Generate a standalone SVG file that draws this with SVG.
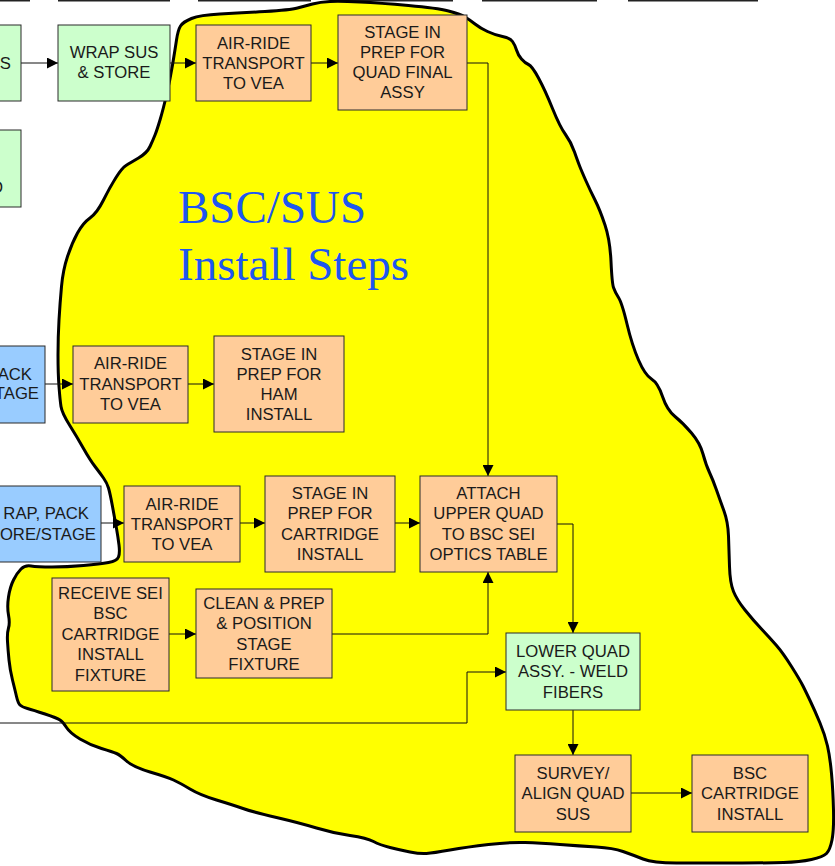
<svg xmlns="http://www.w3.org/2000/svg" width="835" height="866" viewBox="0 0 835 866">
<style>
.box{stroke:#2a2a2a;stroke-width:1}
.or{fill:#FFCC99}
.gr{fill:#CCFFCC}
.bl{fill:#99CCFF}
.t{font-family:"Liberation Sans",Arial,sans-serif;font-size:16.7px;fill:#1a1a1a;text-anchor:middle}
.e{text-anchor:end}
.c{fill:none;stroke:#111;stroke-width:1}
.title{font-family:"Liberation Serif","Times New Roman",serif;font-size:47px;fill:#1E56F0}
</style>
<defs>
<marker id="ah" markerUnits="userSpaceOnUse" markerWidth="11" markerHeight="11" refX="11" refY="5.5" orient="auto">
<path d="M0,0 L11,5.5 L0,11 z" fill="#000"/>
</marker>
</defs>
<rect width="835" height="866" fill="#fff"/>
<g id="top-edges" stroke="#222" stroke-width="2">
<line x1="0" y1="0.5" x2="30" y2="0.5"/>
<line x1="58" y1="0.5" x2="170" y2="0.5"/>
<line x1="198" y1="0.5" x2="311" y2="0.5"/>
<line x1="338" y1="0.5" x2="453" y2="0.5"/>
<line x1="482" y1="0.5" x2="597" y2="0.5"/>
<line x1="628" y1="0.5" x2="758" y2="0.5"/>
</g>
<g id="blob">
<path fill="#FFFF00" stroke="#000" stroke-width="3" stroke-linejoin="round" d="M155,135 Q157,130 160,120 Q163,110 166.5,95 Q170,80 172.5,65 Q175,50 176.5,40 Q178,30 180.5,26 Q183,22 191.5,18.5 Q200,15 220,14 Q240,13 265,11.5 Q290,10 297.5,8 Q305,6 312.5,4 Q320,2 330,1.5 Q340,1 360,2 Q380,3 408.5,5.5 Q437,8 448.5,11 Q460,14 465,17 Q470,20 475,24 Q480,28 487.5,31.5 Q495,35 502.5,36.5 Q510,38 512.5,41.5 Q515,45 516.5,50 Q518,55 521.5,59 Q525,63 528.5,64.5 Q532,66 538.5,78 Q545,90 552.5,108.5 Q560,127 565.5,134.5 Q571,142 574.5,152 Q578,162 580,167 Q582,172 586,181 Q590,190 595,200 Q600,210 605,225 Q610,240 611,261.5 Q612,283 613.5,287.5 Q615,292 618.5,297.5 Q622,303 627,324 Q632,345 638.5,360 Q645,375 651.5,379 Q658,383 662.5,396.5 Q667,410 675,416.5 Q683,423 691.5,433 Q700,443 703,454 Q706,465 709.5,472.5 Q713,480 716.5,490 Q720,500 724,511 Q728,522 728.5,536 Q729,550 729.5,566.5 Q730,583 733.5,591.5 Q737,600 745,610 Q753,620 761.5,629 Q770,638 776.5,645.5 Q783,653 791.5,666.5 Q800,680 803,686 Q806,692 810.5,701.5 Q815,711 820,723 Q825,735 827.5,746 Q830,757 831.5,773.5 Q833,790 833.5,810 Q834,830 832,840 Q830,850 826.5,853.5 Q823,857 811.5,859.5 Q800,862 783.5,862.5 Q767,863 733.5,863 Q700,863 676.5,863 Q653,863 643,859 Q633,855 623,851.5 Q613,848 596.5,847 Q580,846 560,844.5 Q540,843 525,842.5 Q510,842 488.5,844.5 Q467,847 450,850 Q433,853 426.5,853.5 Q420,854 410,852 Q400,850 390,847.5 Q380,845 373.5,841.5 Q367,838 350,835.5 Q333,833 316.5,828 Q300,823 276.5,817.5 Q253,812 243,808.5 Q233,805 216.5,800 Q200,795 190,789 Q180,783 173.5,780 Q167,777 150,772 Q133,767 126.5,761 Q120,755 116.5,753.5 Q113,752 101.5,748.5 Q90,745 80,739 Q70,733 66.5,727.5 Q63,722 60,720 Q57,718 45,714 Q33,710 27.5,708.5 Q22,707 20,705 Q18,703 16.5,696.5 Q15,690 12.5,680 Q10,670 9,660 Q8,650 7.5,641.5 Q7,633 8.5,628 Q10,623 8.5,615 Q7,607 8.5,597 Q10,587 13.5,580 Q17,573 21,569 Q25,565 31,566 Q37,567 52,567 Q67,567 83.5,565.5 Q100,564 108.5,562.5 Q117,561 118.5,557 Q120,553 119,545 Q118,537 116.5,528.5 Q115,520 112.5,506.5 Q110,493 108.5,488 Q107,483 103.5,478 Q100,473 95,466.5 Q90,460 83.5,448.5 Q77,437 69.5,425 Q62,413 61,406.5 Q60,400 59,386.5 Q58,373 58,355 Q58,337 59,320 Q60,303 61.5,286.5 Q63,270 67.5,256.5 Q72,243 77.5,233 Q83,223 90,218 Q97,213 103.5,200 Q110,187 116,177.5 Q122,168 126,165.5 Q130,163 138.5,158 Q147,153 150,146.5 Q153,140 155,135 Z"/>
</g>
<g id="title">
<text class="title" x="178" y="223">BSC/SUS</text>
<text class="title" x="178" y="280">Install Steps</text>
</g>
<g id="connectors">
<path class="c" d="M21,63 H58" marker-end="url(#ah)"/>
<path class="c" d="M170,63 H196" marker-end="url(#ah)"/>
<path class="c" d="M311,63 H338" marker-end="url(#ah)"/>
<path class="c" d="M467,63 H488 V476" marker-end="url(#ah)"/>
<path class="c" d="M45,384 H73" marker-end="url(#ah)"/>
<path class="c" d="M188,384 H214" marker-end="url(#ah)"/>
<path class="c" d="M101,523 H124" marker-end="url(#ah)"/>
<path class="c" d="M240,523 H265" marker-end="url(#ah)"/>
<path class="c" d="M395,523 H420" marker-end="url(#ah)"/>
<path class="c" d="M557,524 H573 V633" marker-end="url(#ah)"/>
<path class="c" d="M169,634 H196" marker-end="url(#ah)"/>
<path class="c" d="M332,634 H488 V572" marker-end="url(#ah)"/>
<path class="c" d="M0,723 H467 V672 H506" marker-end="url(#ah)"/>
<path class="c" d="M573,710 V755" marker-end="url(#ah)"/>
<path class="c" d="M631,793 H692" marker-end="url(#ah)"/>
</g>
<g id="n-partial-top">
<rect class="box gr" x="-20" y="25" width="41" height="76"/>
<text class="t e" x="11" y="69">S</text>
</g>
<g id="n-partial-mid">
<rect class="box gr" x="-20" y="130" width="41" height="77"/>
<text class="t e" x="3" y="193">D</text>
</g>
<g id="n-wrap-sus">
<rect class="box gr" x="58" y="25" width="112" height="76"/>
<text class="t" x="114" y="58">WRAP SUS</text>
<text class="t" x="114" y="78">&amp; STORE</text>
</g>
<g id="n-airride-1">
<rect class="box or" x="196" y="25" width="115" height="76"/>
<text class="t" x="253.5" y="48.5">AIR-RIDE</text>
<text class="t" x="253.5" y="69">TRANSPORT</text>
<text class="t" x="253.5" y="89">TO VEA</text>
</g>
<g id="n-stage-quad">
<rect class="box or" x="338" y="15" width="129" height="95"/>
<text class="t" x="402.5" y="37.5">STAGE IN</text>
<text class="t" x="402.5" y="58">PREP FOR</text>
<text class="t" x="402.5" y="78">QUAD FINAL</text>
<text class="t" x="402.5" y="98">ASSY</text>
</g>
<g id="n-wrap-pack-1">
<rect class="box bl" x="-80" y="346" width="125" height="77"/>
<text class="t e" x="32" y="380">ACK</text>
<text class="t e" x="39" y="399">TAGE</text>
</g>
<g id="n-airride-2">
<rect class="box or" x="73" y="346" width="115" height="77"/>
<text class="t" x="130.5" y="368.5">AIR-RIDE</text>
<text class="t" x="130.5" y="389.5">TRANSPORT</text>
<text class="t" x="130.5" y="410">TO VEA</text>
</g>
<g id="n-stage-ham">
<rect class="box or" x="214" y="336" width="130" height="96"/>
<text class="t" x="279" y="360">STAGE IN</text>
<text class="t" x="279" y="380">PREP FOR</text>
<text class="t" x="279" y="400">HAM</text>
<text class="t" x="279" y="420">INSTALL</text>
</g>
<g id="n-wrap-pack-2">
<rect class="box bl" x="-30" y="486" width="131" height="76"/>
<text class="t e" x="89" y="519">RAP, PACK</text>
<text class="t e" x="96" y="540">ORE/STAGE</text>
</g>
<g id="n-airride-3">
<rect class="box or" x="124" y="486" width="116" height="76"/>
<text class="t" x="182" y="510">AIR-RIDE</text>
<text class="t" x="182" y="530">TRANSPORT</text>
<text class="t" x="182" y="550">TO VEA</text>
</g>
<g id="n-stage-cartridge">
<rect class="box or" x="265" y="476" width="130" height="96"/>
<text class="t" x="330" y="498.5">STAGE IN</text>
<text class="t" x="330" y="519">PREP FOR</text>
<text class="t" x="330" y="539.5">CARTRIDGE</text>
<text class="t" x="330" y="560">INSTALL</text>
</g>
<g id="n-attach">
<rect class="box or" x="420" y="476" width="137" height="96"/>
<text class="t" x="488.5" y="498.5">ATTACH</text>
<text class="t" x="488.5" y="519">UPPER QUAD</text>
<text class="t" x="488.5" y="539.5">TO BSC SEI</text>
<text class="t" x="488.5" y="560">OPTICS TABLE</text>
</g>
<g id="n-receive">
<rect class="box or" x="52" y="578" width="117" height="113"/>
<text class="t" x="110.5" y="598.5">RECEIVE SEI</text>
<text class="t" x="110.5" y="619">BSC</text>
<text class="t" x="110.5" y="640">CARTRIDGE</text>
<text class="t" x="110.5" y="660">INSTALL</text>
<text class="t" x="110.5" y="680.5">FIXTURE</text>
</g>
<g id="n-clean">
<rect class="box or" x="196" y="589" width="136" height="89"/>
<text class="t" x="264" y="609">CLEAN &amp; PREP</text>
<text class="t" x="264" y="629">&amp; POSITION</text>
<text class="t" x="264" y="649.5">STAGE</text>
<text class="t" x="264" y="669.5">FIXTURE</text>
</g>
<g id="n-lower-quad">
<rect class="box gr" x="506" y="633" width="134" height="77"/>
<text class="t" x="573" y="657">LOWER QUAD</text>
<text class="t" x="573" y="677">ASSY. - WELD</text>
<text class="t" x="573" y="697.5">FIBERS</text>
</g>
<g id="n-survey">
<rect class="box or" x="515" y="755" width="116" height="77"/>
<text class="t" x="573" y="778.5">SURVEY/</text>
<text class="t" x="573" y="799">ALIGN QUAD</text>
<text class="t" x="573" y="819.5">SUS</text>
</g>
<g id="n-bsc-install">
<rect class="box or" x="692" y="755" width="116" height="77"/>
<text class="t" x="750" y="778.5">BSC</text>
<text class="t" x="750" y="799">CARTRIDGE</text>
<text class="t" x="750" y="819.5">INSTALL</text>
</g>
</svg>
